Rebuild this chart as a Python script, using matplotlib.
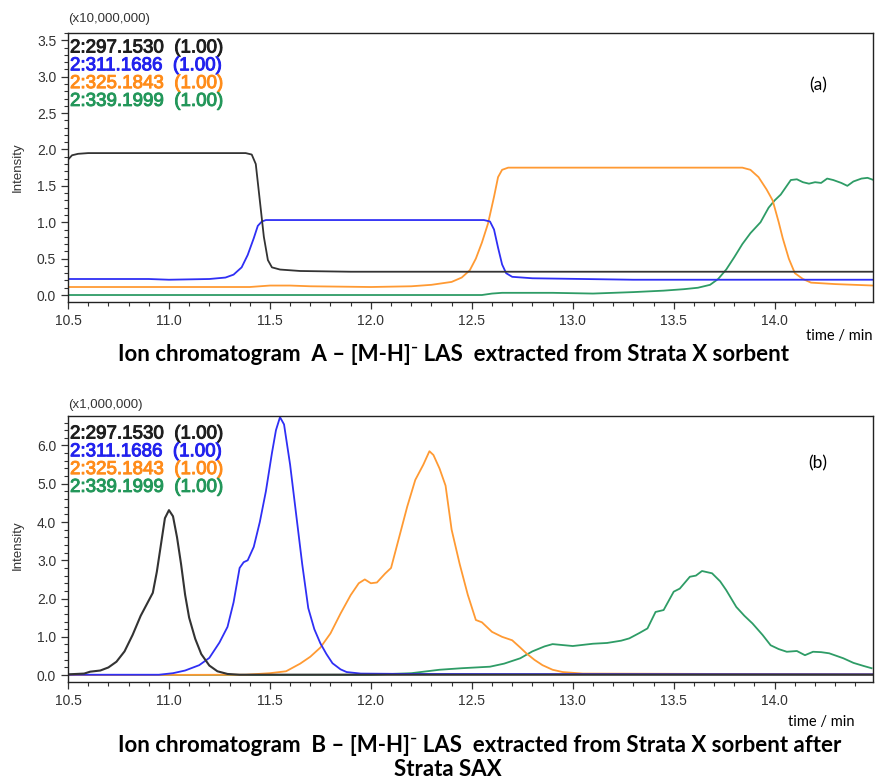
import matplotlib
matplotlib.use("Agg")
import matplotlib.pyplot as plt
import matplotlib.patheffects as pe
from matplotlib.ticker import MultipleLocator, FormatStrFormatter

# ---- data: panel (a), intensity x 10,000,000 ----
a_black_t = [10.50, 10.52, 10.55, 10.60, 11.38, 11.41, 11.43, 11.45, 11.47, 11.49, 11.51,
             11.55, 11.65, 11.90, 14.49]
a_black_y = [1.86, 1.92, 1.94, 1.95, 1.95, 1.93, 1.80, 1.30, 0.80, 0.48, 0.38,
             0.35, 0.33, 0.32, 0.32]

a_blue_t = [10.50, 10.90, 11.00, 11.20, 11.28, 11.32, 11.36, 11.39, 11.42, 11.44, 11.46,
            11.48, 12.56, 12.59, 12.61, 12.63, 12.65, 12.67, 12.70, 12.80, 13.30, 14.49]
a_blue_y = [0.22, 0.22, 0.21, 0.22, 0.24, 0.28, 0.38, 0.55, 0.78, 0.95, 1.01,
            1.03, 1.03, 1.01, 0.90, 0.65, 0.42, 0.30, 0.25, 0.23, 0.21, 0.21]

a_orange_t = [10.50, 11.40, 11.50, 11.60, 11.70, 12.00, 12.20, 12.30, 12.40, 12.45, 12.49,
              12.52, 12.55, 12.58, 12.61, 12.63, 12.65, 12.68, 13.84, 13.88, 13.92, 13.96,
              13.99, 14.02, 14.04, 14.07, 14.10, 14.14, 14.18, 14.30, 14.49]
a_orange_y = [0.11, 0.11, 0.13, 0.13, 0.12, 0.11, 0.12, 0.14, 0.18, 0.24, 0.34,
              0.50, 0.72, 0.98, 1.35, 1.62, 1.72, 1.75, 1.75, 1.72, 1.62, 1.45,
              1.30, 1.00, 0.78, 0.50, 0.30, 0.22, 0.17, 0.15, 0.13]

a_green_t = [10.50, 12.55, 12.60, 12.65, 12.90, 13.10, 13.30, 13.45, 13.55, 13.62, 13.68,
             13.72, 13.76, 13.80, 13.84, 13.88, 13.93, 13.97, 14.00, 14.03, 14.06, 14.08,
             14.11, 14.14, 14.17, 14.20, 14.23, 14.26, 14.29, 14.33, 14.36, 14.39, 14.43,
             14.46, 14.49]
a_green_y = [0.00, 0.00, 0.02, 0.03, 0.03, 0.02, 0.04, 0.06, 0.08, 0.10, 0.14,
             0.22, 0.35, 0.52, 0.70, 0.85, 1.00, 1.20, 1.30, 1.38, 1.50, 1.58,
             1.59, 1.55, 1.53, 1.55, 1.54, 1.60, 1.58, 1.54, 1.50, 1.56, 1.60,
             1.61, 1.58]

# ---- data: panel (b), intensity x 1,000,000 ----
b_black_t = [10.50, 10.58, 10.61, 10.66, 10.70, 10.74, 10.78, 10.82, 10.86, 10.90, 10.92,
             10.94, 10.96, 10.98, 11.00, 11.02, 11.04, 11.06, 11.08, 11.10, 11.13, 11.16,
             11.20, 11.24, 11.29, 11.35, 14.49]
b_black_y = [0.02, 0.04, 0.09, 0.12, 0.20, 0.35, 0.62, 1.05, 1.55, 1.95, 2.15,
             2.70, 3.40, 4.10, 4.31, 4.15, 3.60, 2.90, 2.10, 1.50, 0.95, 0.55,
             0.25, 0.10, 0.03, 0.01, 0.01]

b_blue_t = [10.50, 10.95, 11.02, 11.08, 11.15, 11.20, 11.25, 11.29, 11.32, 11.35, 11.37,
            11.39, 11.42, 11.45, 11.48, 11.51, 11.53, 11.55, 11.57, 11.60, 11.63, 11.66,
            11.69, 11.72, 11.75, 11.78, 11.81, 11.85, 11.88, 11.95, 12.20, 14.49]
b_blue_y = [0.01, 0.01, 0.05, 0.12, 0.26, 0.45, 0.85, 1.26, 1.90, 2.80, 2.95,
            3.00, 3.35, 4.00, 4.80, 5.80, 6.40, 6.74, 6.55, 5.50, 4.20, 2.90,
            1.75, 1.20, 0.83, 0.55, 0.31, 0.15, 0.08, 0.04, 0.03, 0.02]

b_orange_t = [10.50, 11.38, 11.50, 11.58, 11.65, 11.70, 11.75, 11.80, 11.85, 11.90, 11.94,
              11.97, 12.00, 12.03, 12.07, 12.10, 12.14, 12.18, 12.22, 12.26, 12.29, 12.31,
              12.34, 12.37, 12.40, 12.44, 12.48, 12.52, 12.55, 12.60, 12.65, 12.70, 12.74,
              12.77, 12.81, 12.85, 12.90, 12.95, 13.05, 14.49]
b_orange_y = [0.00, 0.01, 0.05, 0.10, 0.30, 0.48, 0.72, 1.09, 1.61, 2.09, 2.40,
              2.50, 2.40, 2.42, 2.65, 2.80, 3.60, 4.40, 5.10, 5.50, 5.85, 5.75,
              5.40, 4.95, 3.80, 2.90, 2.10, 1.44, 1.38, 1.13, 1.00, 0.91, 0.72,
              0.57, 0.40, 0.26, 0.14, 0.08, 0.04, 0.02]

b_green_t = [10.50, 12.00, 12.20, 12.34, 12.45, 12.59, 12.66, 12.74, 12.80, 12.86, 12.90,
             13.00, 13.10, 13.17, 13.24, 13.28, 13.33, 13.37, 13.41, 13.45, 13.50, 13.53,
             13.58, 13.61, 13.64, 13.69, 13.73, 13.76, 13.81, 13.85, 13.89, 13.94, 13.98,
             14.02, 14.06, 14.11, 14.15, 14.19, 14.23, 14.27, 14.34, 14.39, 14.44, 14.48]
b_green_y = [0.00, 0.01, 0.05, 0.14, 0.18, 0.22, 0.30, 0.44, 0.62, 0.75, 0.81,
             0.76, 0.82, 0.84, 0.90, 0.96, 1.10, 1.22, 1.65, 1.70, 2.18, 2.26,
             2.57, 2.60, 2.72, 2.66, 2.45, 2.22, 1.78, 1.55, 1.35, 1.05, 0.78,
             0.68, 0.61, 0.63, 0.52, 0.61, 0.60, 0.57, 0.44, 0.32, 0.24, 0.18]

ion_labels = ["2:297.1530  (1.00)", "2:311.1686  (1.00)",
              "2:325.1843  (1.00)", "2:339.1999  (1.00)"]
line_colors = ["#333333", "#2f2ff5", "#ff9a33", "#2e9c66"]
text_colors = ["#1e1e1e", "#2222ee", "#ff8c1a", "#23975a"]

W, H = 875, 780
fig = plt.figure(figsize=(W / 100, H / 100), dpi=100)


def fx(px):
    return px / W


def fy(py):
    return 1 - py / H


def setup_axis(ax, ylim, ymajor, yminor):
    ax.set_xlim(10.5, 14.487)
    ax.set_ylim(*ylim)
    ax.xaxis.set_major_locator(MultipleLocator(0.5))
    ax.xaxis.set_minor_locator(MultipleLocator(0.1))
    ax.yaxis.set_major_locator(MultipleLocator(ymajor))
    ax.yaxis.set_minor_locator(MultipleLocator(yminor))
    ax.xaxis.set_major_formatter(FormatStrFormatter("%.1f"))
    ax.yaxis.set_major_formatter(FormatStrFormatter("%.1f"))
    ax.tick_params(which="both", direction="out", colors="#333333", labelsize=10,
                   labelcolor="#333333")
    ax.tick_params(which="major", length=5, width=0.9)
    ax.tick_params(which="minor", length=3, width=0.8)
    for lab in ax.get_xticklabels() + ax.get_yticklabels():
        lab.set_family("Liberation Sans")
    for sp in ax.spines.values():
        sp.set_color("#222222")
        sp.set_linewidth(1.0)


# panel (a)
ax1 = fig.add_axes([fx(68), fy(302), fx(873 - 68), (302 - 33) / H])
ax1.plot(a_green_t, a_green_y, color=line_colors[3], lw=1.3)
ax1.plot(a_orange_t, a_orange_y, color=line_colors[2], lw=1.3)
ax1.plot(a_blue_t, a_blue_y, color=line_colors[1], lw=1.3)
ax1.plot(a_black_t, a_black_y, color=line_colors[0], lw=1.3)
setup_axis(ax1, (-0.096, 3.6), 0.5, 0.1)

# panel (b)
ax2 = fig.add_axes([fx(68), fy(682), fx(873 - 68), (682 - 416) / H])
ax2.plot(b_green_t, b_green_y, color=line_colors[3], lw=1.3)
ax2.plot(b_orange_t, b_orange_y, color=line_colors[2], lw=1.3)
ax2.plot(b_blue_t, b_blue_y, color=line_colors[1], lw=1.3)
ax2.plot(b_black_t, b_black_y, color=line_colors[0], lw=1.5)
setup_axis(ax2, (-0.18, 6.77), 1.0, 0.2)

# scale labels, ion legends, panel tags
fig.text(fx(68), fy(19), "(x10,000,000)", fontsize=9.5, color="#333333",
         family="Liberation Sans", va="center", ha="left")
fig.text(fx(68), fy(405), "(x1,000,000)", fontsize=9.5, color="#333333",
         family="Liberation Sans", va="center", ha="left")

for ys in (48, 434):
    for i, (lab, col) in enumerate(zip(ion_labels, text_colors)):
        fig.text(fx(70), fy(ys + 17.8 * i), lab, fontsize=13.5, color=col,
                 family="Liberation Sans", va="center", ha="left",
                 path_effects=[pe.withStroke(linewidth=0.7, foreground=col)])

fig.text(fx(818), fy(85), "(a)", fontsize=12.5, family="Lato", va="center", ha="center")
fig.text(fx(818), fy(463), "(b)", fontsize=12.5, family="Lato", va="center", ha="center")

for yc in (167, 545):
    fig.text(fx(18), fy(yc), "Intensity", fontsize=9.5, color="#333333", rotation=90,
             family="Liberation Sans", va="center", ha="center")

fig.text(fx(873), fy(336), "time / min", fontsize=10.5, family="Lato",
         va="center", ha="right")
fig.text(fx(855), fy(722), "time / min", fontsize=10.5, family="Lato",
         va="center", ha="right")

title_kw = dict(fontsize=16, fontweight="bold", family=["Lato", "DejaVu Sans"],
                va="center")
fig.text(fx(118), fy(355),
         "Ion chromatogram  A \u2013 [M-H]\u207b LAS  extracted from Strata X sorbent",
         ha="left", **title_kw)
fig.text(fx(118), fy(746),
         "Ion chromatogram  B \u2013 [M-H]\u207b LAS  extracted from Strata X sorbent after",
         ha="left", **title_kw)
fig.text(fx(448), fy(770), "Strata SAX", ha="center", **title_kw)

fig.savefig("out.png", dpi=100)
